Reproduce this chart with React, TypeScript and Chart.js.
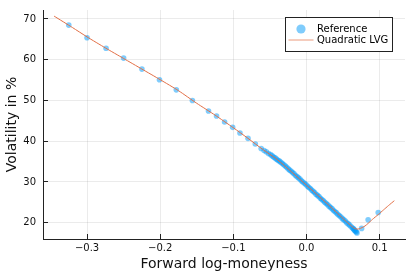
import { useEffect, useRef } from "react";
import { Chart, registerables } from "chart.js";

Chart.register(...registerables);

const seriesNames = ["Reference", "Quadratic LVG"];
const xTicks = [-0.3, -0.2, -0.1, 0.0, 0.1];
const yTicks = [20, 30, 40, 50, 60, 70];
const xTitle = "Forward log-moneyness";
const yTitle = "Volatility in %";

const refX = [
  -0.325, -0.3, -0.274, -0.25, -0.225, -0.201, -0.178, -0.156, -0.134, -0.123,
  -0.112, -0.101, -0.091, -0.08, -0.07, -0.062, -0.058, -0.055, -0.052, -0.049,
  -0.047, -0.045, -0.043, -0.041, -0.039, -0.037, -0.035, -0.033, -0.031, -0.029,
  -0.027, -0.025, -0.023, -0.021, -0.019, -0.017, -0.015, -0.013, -0.011, -0.009,
  -0.007, -0.005, -0.003, -0.001, 0.001, 0.003, 0.005, 0.007, 0.009, 0.011,
  0.013, 0.015, 0.017, 0.019, 0.021, 0.023, 0.025, 0.027, 0.029, 0.031,
  0.033, 0.035, 0.037, 0.039, 0.041, 0.043, 0.045, 0.047, 0.049, 0.051,
  0.053, 0.055, 0.057, 0.059, 0.061, 0.063, 0.064, 0.065, 0.066, 0.067,
  0.068, 0.069, 0.0753, 0.0842, 0.098,
];
const refY = [
  68.5, 65.4, 62.8, 60.4, 57.7, 55.1, 52.6, 50.0, 47.4, 46.2,
  44.7, 43.4, 42.0, 40.7, 39.3, 38.2, 37.7, 37.4, 37.0, 36.7,
  36.4, 36.1, 35.9, 35.6, 35.3, 35.1, 34.8, 34.5, 34.2, 33.9,
  33.6, 33.2, 32.9, 32.6, 32.3, 32.0, 31.6, 31.3, 31.0, 30.7,
  30.3, 30.0, 29.7, 29.4, 29.0, 28.7, 28.4, 28.0, 27.7, 27.4,
  27.0, 26.7, 26.4, 26.0, 25.7, 25.4, 25.0, 24.7, 24.4, 24.0,
  23.7, 23.4, 23.0, 22.7, 22.4, 22.0, 21.7, 21.4, 21.0, 20.7,
  20.4, 20.0, 19.7, 19.4, 19.0, 18.7, 18.5, 18.3, 18.1, 17.9,
  17.7, 17.5, 18.6, 20.7, 22.5,
];

const fitX = [
  -0.345, -0.32, -0.3, -0.275, -0.25, -0.225, -0.2, -0.175, -0.15, -0.125,
  -0.1, -0.08, -0.06, -0.04, -0.02, 0.0, 0.02, 0.04, 0.05, 0.056,
  0.06, 0.064, 0.066, 0.068, 0.07, 0.072, 0.076, 0.08, 0.084, 0.09,
  0.098, 0.105, 0.112, 0.12,
];
const fitY = [
  70.7, 67.9, 65.6, 62.9, 60.3, 57.7, 55.1, 52.4, 49.3, 46.4,
  43.3, 40.7, 38.0, 35.5, 32.4, 29.2, 26.0, 22.7, 21.0, 20.0,
  19.4, 18.8, 18.55, 18.45, 18.45, 18.5, 18.8, 19.2, 19.8, 20.8,
  22.0, 23.1, 24.2, 25.4,
];

const FONT = "'DejaVu Sans', sans-serif";
const BLUE = "rgba(0,154,250,0.5)";
const ORANGE = "#E26F46";

function fmtX(v: number): string {
  const s = Math.abs(v).toFixed(1);
  return v < -1e-9 ? "\u2212" + s : s;
}

const boxLegend = {
  id: "boxLegend",
  afterDraw(chart: any) {
    const { ctx, chartArea } = chart;
    const ds = chart.data.datasets;
    const w = 107;
    const h = 34;
    const x0 = Math.round(chartArea.right - 13 - w) + 0.5;
    const y0 = Math.round(chartArea.top + 7) + 0.5;
    ctx.save();
    ctx.fillStyle = "#ffffff";
    ctx.fillRect(x0, y0, w, h);
    ctx.strokeStyle = "#222";
    ctx.lineWidth = 1;
    ctx.strokeRect(x0, y0, w, h);
    // marker entry
    ctx.beginPath();
    ctx.arc(x0 + 15.5, y0 + 11.5, 4.6, 0, Math.PI * 2);
    ctx.fillStyle = ds[0].backgroundColor;
    ctx.fill();
    // line entry
    ctx.beginPath();
    ctx.moveTo(x0 + 3, y0 + 22.5);
    ctx.lineTo(x0 + 28, y0 + 22.5);
    ctx.strokeStyle = "rgba(226,111,70,0.7)";
    ctx.lineWidth = 1;
    ctx.stroke();
    ctx.fillStyle = "#000";
    ctx.font = "10px " + FONT;
    ctx.textBaseline = "middle";
    ctx.textAlign = "left";
    ctx.fillText(ds[0].label, x0 + 31.5, y0 + 11.5);
    ctx.fillText(ds[1].label, x0 + 31.5, y0 + 23);
    ctx.restore();
  },
};

export default function App() {
  const ref = useRef<HTMLCanvasElement | null>(null);

  useEffect(() => {
    if (!ref.current) return;
    const chart = new Chart(ref.current, {
      type: "scatter",
      data: {
        datasets: [
          {
            label: seriesNames[0],
            data: refX.map((x, i) => ({ x, y: refY[i] })),
            backgroundColor: BLUE,
            borderWidth: 0,
            pointRadius: 2.8,
            pointHoverRadius: 2.8,
            showLine: false,
            order: 2,
          },
          {
            label: seriesNames[1],
            data: fitX.map((x, i) => ({ x, y: fitY[i] })),
            borderColor: ORANGE,
            backgroundColor: ORANGE,
            borderWidth: 1,
            pointRadius: 0,
            showLine: true,
            tension: 0.2,
            order: 1,
          },
        ],
      },
      options: {
        responsive: false,
        animation: false,
        devicePixelRatio: 1,
        events: [],
        layout: { padding: { top: 10, right: 10, left: 0, bottom: 0 } },
        plugins: {
          legend: { display: false },
          tooltip: { enabled: false },
        },
        scales: {
          x: {
            type: "linear",
            min: -0.3602,
            max: 0.1346,
            afterBuildTicks: (s: any) => {
              s.ticks = xTicks.map((v) => ({ value: v }));
            },
            afterFit: (s: any) => {
              s.height = 38;
              s.paddingLeft = 0;
              s.paddingRight = 0;
            },
            ticks: {
              callback: (v: any) => fmtX(Number(v)),
              font: { family: FONT, size: 10 },
              color: "#111",
              padding: 8,
              maxRotation: 0,
              autoSkip: false,
            },
            grid: {
              color: "rgba(0,0,0,0.08)",
              lineWidth: 1,
              tickLength: -5,
              tickColor: "#222",
              tickWidth: 1,
            },
            border: { display: true, color: "#222", width: 1 },
            title: {
              display: true,
              text: xTitle,
              font: { family: FONT, size: 14 },
              color: "#111",
              padding: { top: 1, bottom: 4.6 },
            },
          },
          y: {
            type: "linear",
            min: 16.0,
            max: 72.2,
            afterBuildTicks: (s: any) => {
              s.ticks = yTicks.map((v) => ({ value: v }));
            },
            afterFit: (s: any) => {
              s.width = 43;
              s.paddingTop = 0;
              s.paddingBottom = 0;
            },
            ticks: {
              callback: (v: any) => String(v),
              font: { family: FONT, size: 10 },
              color: "#111",
              padding: 12,
              autoSkip: false,
            },
            grid: {
              color: "rgba(0,0,0,0.08)",
              lineWidth: 1,
              tickLength: -5,
              tickColor: "#222",
              tickWidth: 1,
            },
            border: { display: true, color: "#222", width: 1 },
            title: {
              display: true,
              text: yTitle,
              font: { family: FONT, size: 14 },
              color: "#111",
              padding: { top: 3.6, bottom: 0 },
            },
          },
        },
      },
      plugins: [boxLegend],
    } as any);
    return () => chart.destroy();
  }, []);

  return (
    <div style={{ position: "fixed", left: 0, top: 0, width: 415, height: 277, background: "#fff" }}>
      <canvas ref={ref} width={415} height={277} style={{ display: "block", width: 415, height: 277 }} />
    </div>
  );
}
